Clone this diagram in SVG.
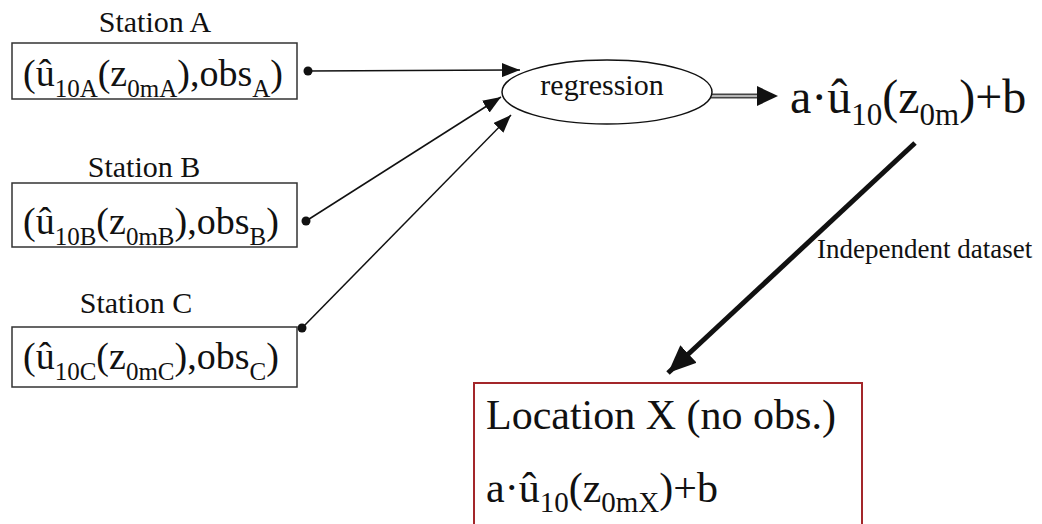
<svg xmlns="http://www.w3.org/2000/svg" width="1042" height="524" viewBox="0 0 1042 524" font-family="Liberation Serif, Times New Roman, Times, serif">
  <style>
    text { font-family: "Liberation Serif", "Times New Roman", Times, serif; fill: #111; }
    .label { font-size: 30px; }
    .box { fill: #fff; stroke: #333; stroke-width: 1.5; }
    .formula { font-size: 38px; }
    .sub { font-size: 25px; }
    .thin { stroke: #111; stroke-width: 1.5; fill: none; }
    .dot { fill: #111; }
  </style>
  <defs>
    <marker id="headSmall" markerUnits="userSpaceOnUse" markerWidth="20" markerHeight="14" refX="18" refY="7" orient="auto">
      <path d="M0,0 L18,7 L0,14 Z" fill="#111"/>
    </marker>
    <marker id="headBig" markerUnits="userSpaceOnUse" markerWidth="30" markerHeight="24" refX="28" refY="12" orient="auto">
      <path d="M0,0 L28,12 L0,24 Z" fill="#111"/>
    </marker>
  </defs>

  <!-- connectors -->
  <g id="connectors">
    <line class="thin" x1="308" y1="71" x2="520" y2="70" marker-end="url(#headSmall)"/>
    <line class="thin" x1="306" y1="221" x2="501" y2="97" marker-end="url(#headSmall)"/>
    <line class="thin" x1="302" y1="328" x2="511" y2="115" marker-end="url(#headSmall)"/>
    <circle class="dot" cx="308" cy="71" r="4.5"/>
    <circle class="dot" cx="306" cy="221" r="4.5"/>
    <circle class="dot" cx="302" cy="328" r="4.5"/>
    <!-- double-line output arrow -->
    <line x1="711" y1="96" x2="760" y2="96" stroke="#444" stroke-width="5"/>
    <line x1="711" y1="96" x2="760" y2="96" stroke="#ddd" stroke-width="1.5"/>
    <path d="M757,86 L778,96 L757,106 Z" fill="#111"/>
    <!-- thick arrow to location X -->
    <line x1="915" y1="143" x2="668" y2="373" stroke="#111" stroke-width="5" marker-end="url(#headBig)"/>
    <text x="817" y="258" font-size="27">Independent dataset</text>
  </g>

  <!-- Station A -->
  <g id="stationA">
    <text class="label" x="155" y="32" text-anchor="middle">Station A</text>
    <rect class="box" x="12" y="43" width="285" height="56"/>
    <text class="formula" x="23" y="86">(û<tspan class="sub" dy="11">10A</tspan><tspan dy="-11">(z</tspan><tspan class="sub" dy="11">0mA</tspan><tspan dy="-11">),obs</tspan><tspan class="sub" dy="11">A</tspan><tspan dy="-11">)</tspan></text>
  </g>

  <!-- Station B -->
  <g id="stationB">
    <text class="label" x="144" y="177" text-anchor="middle">Station B</text>
    <rect class="box" x="12" y="183" width="285" height="64"/>
    <text class="formula" x="23" y="234">(û<tspan class="sub" dy="11">10B</tspan><tspan dy="-11">(z</tspan><tspan class="sub" dy="11">0mB</tspan><tspan dy="-11">),obs</tspan><tspan class="sub" dy="11">B</tspan><tspan dy="-11">)</tspan></text>
  </g>

  <!-- Station C -->
  <g id="stationC">
    <text class="label" x="136" y="313" text-anchor="middle">Station C</text>
    <rect class="box" x="12" y="327" width="285" height="60"/>
    <text class="formula" x="23" y="369">(û<tspan class="sub" dy="11">10C</tspan><tspan dy="-11">(z</tspan><tspan class="sub" dy="11">0mC</tspan><tspan dy="-11">),obs</tspan><tspan class="sub" dy="11">C</tspan><tspan dy="-11">)</tspan></text>
  </g>

  <!-- regression -->
  <g id="regression">
    <ellipse cx="607" cy="92" rx="105" ry="32" fill="#fff" stroke="#111" stroke-width="1.5"/>
    <text x="602" y="95" font-size="30" text-anchor="middle">regression</text>
  </g>

  <!-- fitted model -->
  <g id="model">
    <text x="790" y="113" font-size="48">a·û<tspan font-size="31" dy="12">10</tspan><tspan dy="-12">(z</tspan><tspan font-size="31" dy="12">0m</tspan><tspan dy="-12">)+b</tspan></text>
  </g>

  <!-- location X -->
  <g id="locationX">
    <rect x="474" y="383" width="388" height="160" fill="#fff" stroke="#a3262a" stroke-width="2"/>
    <text x="486" y="429" font-size="42">Location X (no obs.)</text>
    <text x="486" y="502" font-size="42">a·û<tspan font-size="29" dy="10">10</tspan><tspan dy="-10">(z</tspan><tspan font-size="29" dy="10">0mX</tspan><tspan dy="-10">)+b</tspan></text>
  </g>
</svg>
